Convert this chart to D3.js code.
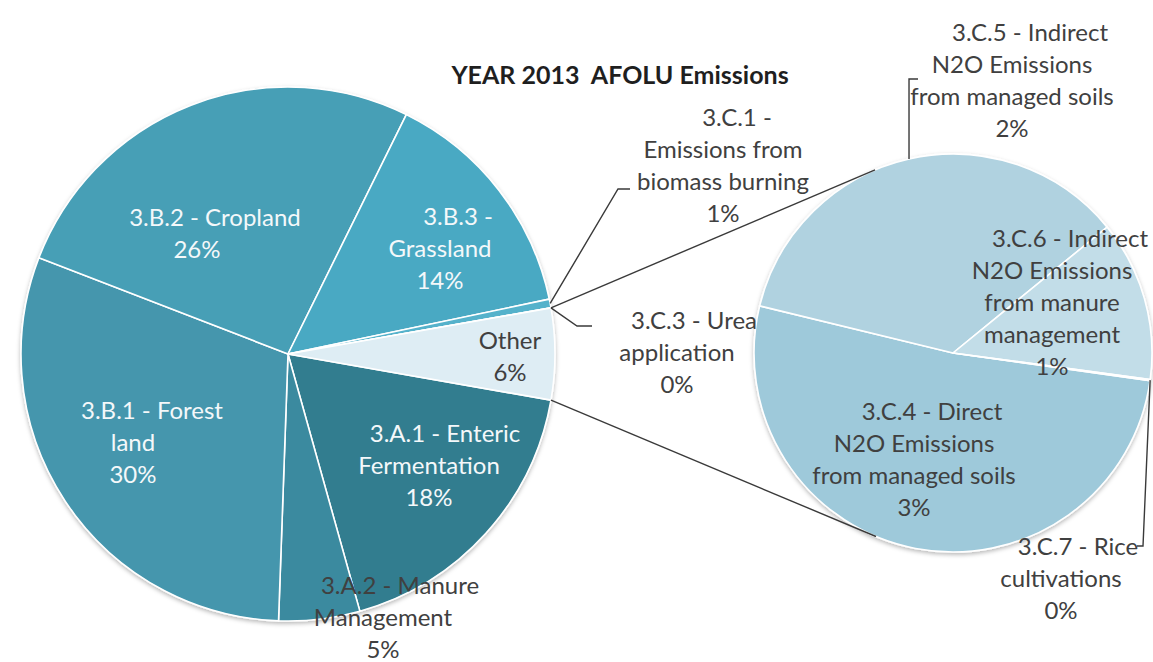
<!DOCTYPE html>
<html>
<head>
<meta charset="utf-8">
<script src="https://cdn.jsdelivr.net/npm/d3@7"></script>
<style>
  html, body { margin: 0; padding: 0; background: #fff; }
  svg { display: block; font-family: Lato, "Open Sans", sans-serif; }
</style>
</head>
<body>
<svg id="chart" width="1153" height="662"></svg>
<script>
// 2013 AFOLU emissions, share of total (%)
const chartTitle = "YEAR 2013  AFOLU Emissions";

// Categories shown in the main pie (the last slice "Other" groups the secondary pie)
const mainCategories = [
  "3.A.1 - Enteric Fermentation",
  "3.A.2 - Manure Management",
  "3.B.1 - Forest land",
  "3.B.2 - Cropland",
  "3.B.3 - Grassland",
  "3.C.1 - Emissions from biomass burning",
  "3.C.3 - Urea application"
];
const mainValues = [17.9, 4.9, 30.3, 26.44, 14.4, 0.52, 0.01];
const mainLabelLines = [
  ["3.A.1 - Enteric", "Fermentation"],
  ["3.A.2 - Manure", "Management"],
  ["3.B.1 - Forest", "land"],
  ["3.B.2 - Cropland"],
  ["3.B.3 -", "Grassland"],
  ["3.C.1 -", "Emissions from", "biomass burning"],
  ["3.C.3 - Urea", "application"]
];
const mainColors = ["#307d8f", "#3b8a9f", "#4496ad", "#469fb6", "#4aa9c3", "#55b2cb", "#5ab6ce"];

const otherName = "Other";
const otherColor = "#deedf4";

// Categories broken out in the secondary pie
const otherCategories = [
  "3.C.4 - Direct N2O Emissions from managed soils",
  "3.C.5 - Indirect N2O Emissions from managed soils",
  "3.C.6 - Indirect N2O Emissions from manure management",
  "3.C.7 - Rice cultivations"
];
const otherValues = [2.85, 1.95, 0.72, 0.005];
const otherLabelLines = [
  ["3.C.4 - Direct", "N2O Emissions", "from managed soils"],
  ["3.C.5 - Indirect", "N2O Emissions", "from managed soils"],
  ["3.C.6 - Indirect", "N2O Emissions", "from manure", "management"],
  ["3.C.7 - Rice", "cultivations"]
];
const otherColors = ["#9ec9da", "#b0d2e0", "#c2dde8", "#a8cfde"];

// ---- layout ----
const main = { cx: 288, cy: 354, r: 267 };
const sec = { cx: 953, cy: 353, r: 199 };
const lineH = 32;
const dark = "#404040";
const light = "#f4f8fa";

// label placement: x = centre of the lines, y = centre of the first line,
// dx = per-line horizontal nudge
const mainLabelPos = [
  { x: 429, y: 433, dx: [16, 0, 0], fill: light },
  { x: 383, y: 585, dx: [17, 0, 0], fill: dark },
  { x: 133, y: 410, dx: [19, 0, 0], fill: light },
  { x: 197, y: 217, dx: [18, 0], fill: light },
  { x: 440, y: 216, dx: [18, 0, 0], fill: light },
  { x: 723, y: 117, dx: [14, 0, 0, 0], fill: dark, leader: [[618, 189], [630, 189]] },
  { x: 677, y: 320, dx: [17, 0, 0], fill: dark, leader: [[577, 326], [592, 326]] },
  { x: 510, y: 340, dx: [0, 0], fill: dark }
];
const otherLabelPos = [
  { x: 914, y: 411, dx: [18, 0, 0, 0] },
  { x: 1012, y: 32, dx: [18, 0, 0, 0], leader: [[null, 79], [918, 79]] },
  { x: 1052, y: 238, dx: [18, 0, 0, 0, 0] },
  { x: 1061, y: 546, dx: [17, 0, 0], leader: [[1143, 546], [1137, 546]] }
];

const svg = d3.select("#chart");

const defs = svg.append("defs");
const shadow = defs.append("filter").attr("id", "pieShadow")
  .attr("x", "-10%").attr("y", "-10%").attr("width", "120%").attr("height", "120%");
shadow.append("feDropShadow")
  .attr("dx", 0).attr("dy", 2).attr("stdDeviation", 2.2)
  .attr("flood-color", "#000").attr("flood-opacity", 0.28);

const otherSum = d3.sum(otherValues);
const total = d3.sum(mainValues) + otherSum;
const pct = v => Math.round(v / total * 100) + "%";

const mainData = mainCategories.map((name, i) => ({
  name, value: mainValues[i], lines: mainLabelLines[i], color: mainColors[i], pos: mainLabelPos[i]
})).concat([{
  name: otherName, value: otherSum, lines: [otherName], color: otherColor, pos: mainLabelPos[mainCategories.length]
}]);

const secData = otherCategories.map((name, i) => ({
  name, value: otherValues[i], lines: otherLabelLines[i], color: otherColors[i], pos: otherLabelPos[i]
}));

// "Other" is centred on the horizontal axis facing the secondary pie
const otherAngle = 2 * Math.PI * otherSum / total;
const mainStart = Math.PI / 2 + otherAngle / 2;
const pieMain = d3.pie().sort(null).value(d => d.value)
  .startAngle(mainStart).endAngle(mainStart + 2 * Math.PI);
const secStart = 98 * Math.PI / 180;
const pieSec = d3.pie().sort(null).value(d => d.value)
  .startAngle(secStart).endAngle(secStart + 2 * Math.PI);

const arcsMain = pieMain(mainData);
const arcsSec = pieSec(secData);

const pointOn = (c, a, r) => [c.cx + r * Math.sin(a), c.cy - r * Math.cos(a)];

function drawPie(c, arcs) {
  const arc = d3.arc().innerRadius(0).outerRadius(c.r);
  const g = svg.append("g")
    .attr("transform", `translate(${c.cx},${c.cy})`)
    .attr("filter", "url(#pieShadow)");
  g.selectAll("path").data(arcs).join("path")
    .attr("d", arc)
    .attr("fill", d => d.data.color)
    .attr("stroke", "#fff")
    .attr("stroke-width", 1.6)
    .attr("stroke-linejoin", "round");
}

drawPie(main, arcsMain);
drawPie(sec, arcsSec);

// connector lines from the "Other" slice to tangents of the secondary pie
const otherArc = arcsMain[arcsMain.length - 1];
function tangentPoint(p, c, upper) {
  const dx = p[0] - c.cx, dy = p[1] - c.cy;
  const d = Math.hypot(dx, dy);
  const base = Math.atan2(dy, dx);
  const off = Math.acos(c.r / d);
  const a = upper ? base + off : base - off;
  return [c.cx + c.r * Math.cos(a), c.cy + c.r * Math.sin(a)];
}
const pTop = pointOn(main, otherArc.startAngle, main.r);
const pBot = pointOn(main, otherArc.endAngle, main.r);
const connectors = [
  [pTop, tangentPoint(pTop, sec, true)],
  [pBot, tangentPoint(pBot, sec, false)]
];
svg.append("g").selectAll("line").data(connectors).join("line")
  .attr("x1", d => d[0][0]).attr("y1", d => d[0][1])
  .attr("x2", d => d[1][0]).attr("y2", d => d[1][1])
  .attr("stroke", "#3a3a3a").attr("stroke-width", 1.4);

// labels and leader lines
function drawLabels(c, arcs, defaultFill) {
  const lineGen = d3.line();
  arcs.forEach(a => {
    const d = a.data, pos = d.pos;
    if (pos.leader) {
      const mid = (a.startAngle + a.endAngle) / 2;
      const start = pointOn(c, mid, c.r);
      const pts = [start].concat(pos.leader.map(p => [p[0] == null ? start[0] : p[0], p[1]]));
      svg.append("path")
        .attr("d", lineGen(pts))
        .attr("fill", "none")
        .attr("stroke", "#3a3a3a")
        .attr("stroke-width", 1.4);
    }
    const lines = d.lines.concat([pct(d.value)]);
    const t = svg.append("text")
      .attr("text-anchor", "middle")
      .attr("font-size", 24)
      .attr("fill", pos.fill || defaultFill);
    lines.forEach((s, i) => {
      t.append("tspan")
        .attr("x", pos.x + (pos.dx[i] || 0))
        .attr("y", pos.y + i * lineH)
        .attr("dy", "0.36em")
        .text(s);
    });
  });
}
drawLabels(main, arcsMain, dark);
drawLabels(sec, arcsSec, dark);

svg.append("text")
  .attr("x", 620).attr("y", 84)
  .attr("text-anchor", "middle")
  .attr("font-size", 25)
  .attr("font-weight", "bold")
  .attr("fill", "#1f1f1f")
  .style("white-space", "pre")
  .text(chartTitle);
</script>
</body>
</html>
